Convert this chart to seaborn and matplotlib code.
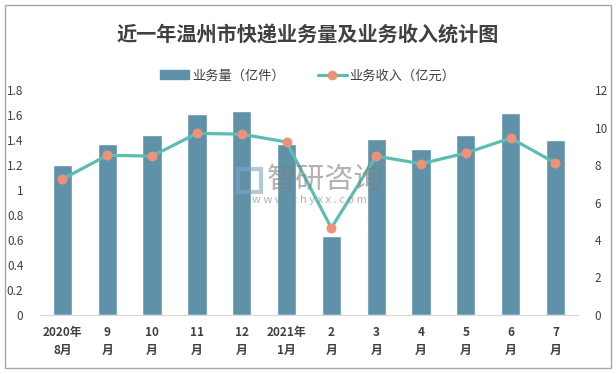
import pandas as pd
import numpy as np
import matplotlib.pyplot as plt
import seaborn as sns
from matplotlib.patches import Rectangle
from matplotlib.lines import Line2D

# data
months = ['2020年\n8月', '9\n月', '10\n月', '11\n月', '12\n月', '2021年\n1月',
          '2\n月', '3\n月', '4\n月', '5\n月', '6\n月', '7\n月']
volume = [1.20, 1.37, 1.44, 1.61, 1.63, 1.37, 0.63, 1.41, 1.33, 1.44, 1.62, 1.40]
revenue = [7.25, 8.52, 8.48, 9.69, 9.65, 9.23, 4.64, 8.48, 8.07, 8.64, 9.44, 8.11]

bar_color = '#5f92a9'
line_color = '#5cbdb3'
marker_color = '#ef9078'
text_color = '#404040'

sns.set_style("white")
plt.rcParams['font.family'] = ['Noto Sans CJK SC', 'DejaVu Sans']

df = pd.DataFrame({'month': months, 'volume': volume, 'revenue': revenue})

fig = plt.figure(figsize=(6.16, 3.74), dpi=100)
ax = fig.add_axes([0.065, 0.158, 0.873, 0.601])

sns.barplot(data=df, x='month', y='volume', color=bar_color, width=0.43,
            saturation=1, ax=ax)
ax.set_ylim(0, 1.8)
ax.set_yticks(np.arange(0, 1.81, 0.2))
ax.set_yticklabels(['0', '0.2', '0.4', '0.6', '0.8', '1', '1.2', '1.4', '1.6', '1.8'])
ax.set_xlim(-0.5, len(months) - 0.5)
ax.set_xlabel('')
ax.set_ylabel('')

ax2 = ax.twinx()
ax2.plot(np.arange(len(months)), revenue, color=line_color, lw=2.3, zorder=3)
ax2.scatter(np.arange(len(months)), revenue, color=marker_color, s=38, zorder=4)
ax2.set_ylim(0, 12)
ax2.set_yticks(range(0, 13, 2))

for a in (ax, ax2):
    for s in a.spines.values():
        s.set_visible(False)
    a.tick_params(length=0, labelsize=8.5, colors=text_color)
ax.spines['bottom'].set_visible(True)
ax.spines['bottom'].set_color('#d9d9d9')
ax.tick_params(axis='y', pad=12)
ax2.tick_params(axis='y', pad=12)
ax.tick_params(axis='x', pad=8)
for lbl in ax.get_xticklabels():
    lbl.set_fontweight('bold')
    lbl.set_linespacing(1.5)

# title and legend
fig.text(0.5, 0.905, '近一年温州市快递业务量及业务收入统计图', ha='center', va='center',
         fontsize=14.5, fontweight='bold', color=text_color)
handles = [Rectangle((0, 0), 1, 1, color=bar_color),
           Line2D([0], [0], color=line_color, lw=2.3, marker='o',
                  markerfacecolor=marker_color, markeredgecolor=marker_color, markersize=6)]
fig.legend(handles, ['业务量（亿件）', '业务收入（亿元）'], loc='center',
           bbox_to_anchor=(0.5, 0.797), ncol=2, frameon=False, fontsize=9.5,
           handlelength=2.2, handletextpad=0.2, columnspacing=2.5,
           labelcolor=text_color)

# watermark on top of the plot
fig.text(0.527, 0.519, '智研咨询', ha='center', va='center', fontsize=21,
         color='#7f7f7f', alpha=0.6, zorder=20)
fig.text(0.502, 0.466, 'w w w . c h y x x . c o m', ha='center', va='center',
         fontsize=8, color='#7f7f7f', alpha=0.6, zorder=20)
fig.add_artist(Rectangle((0.387, 0.487), 0.036, 0.06, transform=fig.transFigure,
                         fill=False, edgecolor='#7fa6c6', lw=3, alpha=0.6, zorder=20))

# outer border
fig.add_artist(Rectangle((0.008, 0.016), 0.984, 0.97, transform=fig.transFigure,
                         fill=False, edgecolor='#a6a6a6', lw=1))

plt.savefig('out.png', dpi=100)
